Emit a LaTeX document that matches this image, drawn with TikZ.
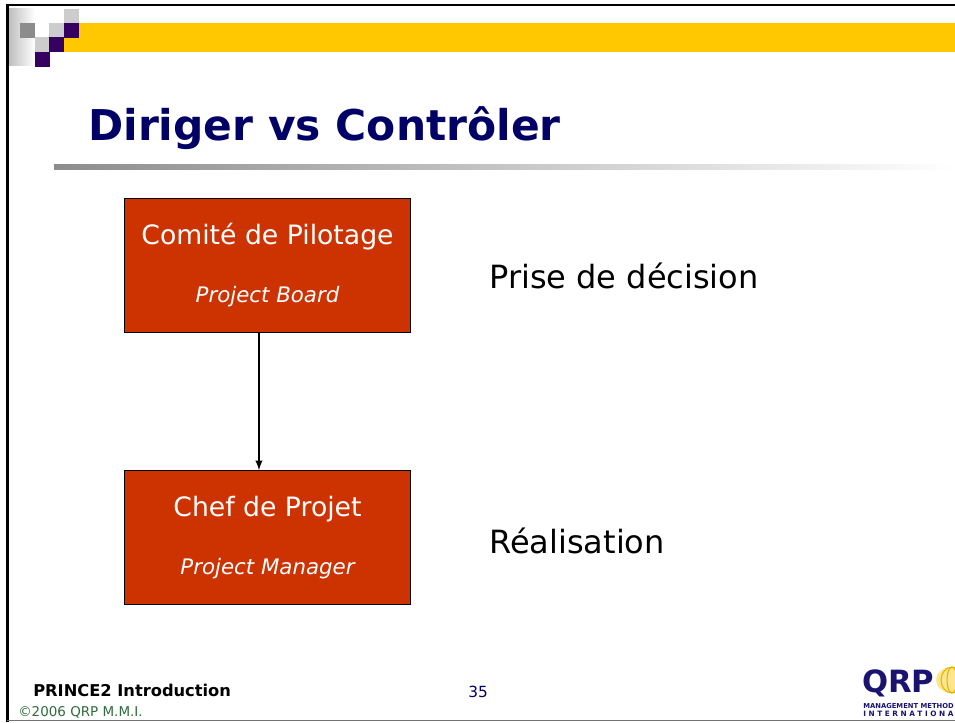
\documentclass[tikz,border=0pt]{standalone}
\usepackage{fontspec}
\setmainfont{DejaVu Sans}
\usepackage{xcolor}
\usetikzlibrary{arrows}
\usetikzlibrary{shadings}
\usetikzlibrary{positioning}
\definecolor{banner}{HTML}{FFC800}
\definecolor{square}{HTML}{35005F}
\definecolor{boxfill}{HTML}{CC3300}
\definecolor{titleblue}{HTML}{000066}
\definecolor{footgreen}{HTML}{2E6B3A}
\definecolor{logoblue}{HTML}{1A1470}
\begin{document}
\begin{tikzpicture}[>=latex, x=0.75pt, y=-0.75pt,
    box/.style={draw=black, fill=boxfill, text=white, minimum width=214.5pt, minimum height=100.5pt, inner sep=0pt, align=center, font=\fontsize{20}{26}\selectfont},
    side/.style={anchor=west, inner sep=0pt, font=\fontsize{24}{28}\selectfont}]
    \path[use as bounding box] (0, 0) rectangle (955, 722);
\fill[white] (0, 0) rectangle (955, 722);

\fill[left color=black!25, right color=white] (9, 8) rectangle (35, 65);
\fill[banner] (64, 23) rectangle (955, 52);
\foreach \x / \y in {64/9, 49/23, 35/37}
  \fill[black!20] (\x, \y) rectangle +(15, 15);
\fill[black!45] (20, 23) rectangle +(15, 15);
\foreach \x / \y in {64/23, 49/37, 35/52}
  \fill[square] (\x, \y) rectangle +(15, 15);

\draw[line width=2.2pt] (7.5, 722) -- (7.5, 5) -- (955, 5);
\draw[black!55, line width=0.8pt] (7, 720.5) -- (955, 720.5);

\node[anchor=base west, inner sep=0pt, text=titleblue, font=\bfseries\fontsize{31.8}{38}\selectfont] (title) at (88, 140) {Diriger vs Contrôler};
\fill[left color=black!45, right color=white] (54, 164) rectangle (955, 169);

\node[box] (board) at (267.5, 265) {Comité de Pilotage\\[18pt]{\itshape\fontsize{16}{20}\selectfont Project Board}};
\node[box] (manager) at (267.5, 537.5) {Chef de Projet\\[18pt]{\itshape\fontsize{16}{20}\selectfont Project Manager}};
\draw[->, line width=1.5pt] ([xshift=-6.4pt]board.south) -- ([xshift=-6.4pt]manager.north);

\node[side] (decision) at (489, 276) {Prise de décision};
\node[side] (realisation) at (489, 541) {Réalisation};

\node[anchor=base west, inner sep=0pt, font=\bfseries\fontsize{12.2}{14}\selectfont] (course) at (33, 696) {PRINCE2 Introduction};
\node[anchor=base west, inner sep=0pt, text=footgreen, font=\fontsize{10.1}{11}\selectfont] (copy) at (18, 716) {©2006 QRP M.M.I.};
\node[anchor=base, inner sep=0pt, text=titleblue, font=\fontsize{11.5}{13}\selectfont] (page) at (478, 697) {35};

\begin{scope}
\clip (860, 660) rectangle (955, 722);
\fill[banner!45] (952, 680) ellipse [x radius=16, y radius=13];
\foreach \r in {5, 11}
  \draw[banner!90!black, line width=0.8pt] (952, 680) ellipse [x radius=\r, y radius=13];
\end{scope}
\node[anchor=base west, inner sep=0pt, text=logoblue, font=\bfseries\fontsize{23}{26}\selectfont] (logo) at (862, 692) {QRP};
\node[anchor=base west, inner sep=0pt, text=logoblue, font=\bfseries\fontsize{5.1}{7}\selectfont] (method) at (863, 708) {MANAGEMENT METHOD};
\node[anchor=base west, inner sep=0pt, text=logoblue, font=\bfseries\fontsize{5.5}{7}\selectfont] (intl) at (863, 716.5) {I N T E R N A T I O N A};
\end{tikzpicture}
\end{document}
